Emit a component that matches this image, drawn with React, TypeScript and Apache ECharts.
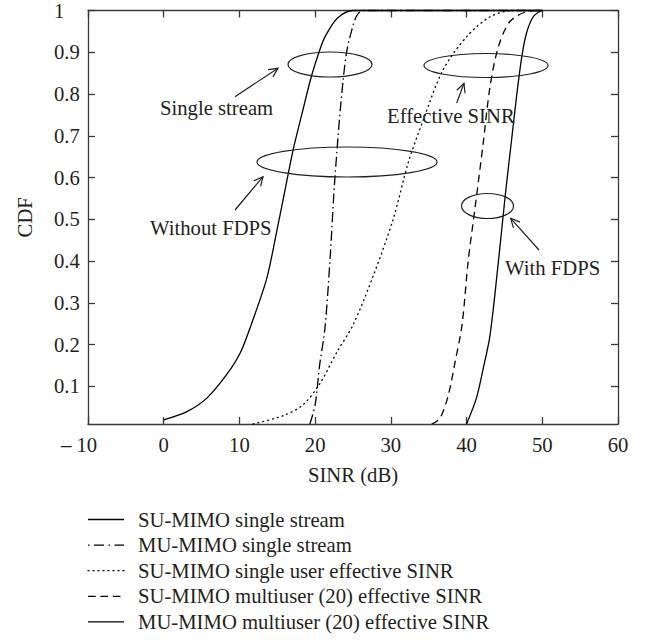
import React, { useEffect, useRef } from "react";
import * as echarts from "echarts";

// ---- data ----
const seriesNames = [
  "SU-MIMO single stream",
  "MU-MIMO single stream",
  "SU-MIMO single user effective SINR",
  "SU-MIMO multiuser (20) effective SINR",
  "MU-MIMO multiuser (20) effective SINR",
];

const suSingleX = [0, 3, 5.7, 8.3, 10.1, 11.5, 13.6, 14.9, 16.0, 17.1, 18.4, 19.5, 20.6, 21.3, 22.9, 25.0, 50];
const suSingleY = [0.02, 0.039, 0.072, 0.128, 0.18, 0.245, 0.358, 0.469, 0.568, 0.667, 0.763, 0.842, 0.905, 0.937, 0.981, 1.0, 1.0];

const muSingleX = [19.3, 20.0, 20.6, 21.3, 22.0, 22.6, 23.7, 24.6, 26.4, 50];
const muSingleY = [0.01, 0.056, 0.152, 0.24, 0.414, 0.596, 0.834, 0.937, 1.0, 1.0];

const suEffX = [11.8, 15.8, 18.4, 20.6, 22.9, 25.0, 27.7, 30.3, 32.3, 34.3, 36.9, 40.0, 43.1, 46.2, 50];
const suEffY = [0.01, 0.03, 0.056, 0.106, 0.183, 0.247, 0.366, 0.5, 0.636, 0.739, 0.858, 0.937, 0.985, 1.0, 1.0];

const suMultiX = [35.4, 36.5, 37.6, 38.5, 39.4, 40.2, 41.1, 42.2, 43.1, 44.2, 45.7, 47.9, 50];
const suMultiY = [0.01, 0.024, 0.08, 0.16, 0.247, 0.398, 0.525, 0.683, 0.818, 0.913, 0.973, 0.997, 1.0];

const muMultiX = [40.0, 41.3, 42.2, 43.1, 44.2, 45.1, 46.0, 46.6, 47.3, 47.9, 48.8, 49.9];
const muMultiY = [0.01, 0.072, 0.143, 0.223, 0.398, 0.556, 0.699, 0.794, 0.89, 0.945, 0.985, 1.0];

const yTickValues = [0.1, 0.2, 0.3, 0.4, 0.5, 0.6, 0.7, 0.8, 0.9, 1];

const annotationTexts = ["Single stream", "Without FDPS", "Effective SINR", "With FDPS"];

const FONT = '"Liberation Serif", "DejaVu Serif", serif';
const FS = 20.7;
const INK = "#231f20";
const FRAME = "#3a3a3a";

const zip = (xs: number[], ys: number[]) => xs.map((x, i) => [x, ys[i]]);

export default function App() {
  const ref = useRef<HTMLDivElement>(null);

  useEffect(() => {
    document.body.style.margin = "0";
    if (!ref.current) return;
    const chart = echarts.init(ref.current, undefined, { renderer: "svg" });

    const dashes: any[] = ["solid", [10, 3.5, 1.5, 3.5], [1, 4], [7.5, 5], "solid"];
    const legendDashes: any[] = [null, [1.5, 4.5, 10, 4.5], [1, 4], [7.7, 4.7], null];
    const datasets = [
      zip(suSingleX, suSingleY),
      zip(muSingleX, muSingleY),
      zip(suEffX, suEffY),
      zip(suMultiX, suMultiY),
      zip(muMultiX, muMultiY),
    ];

    const series = seriesNames.map((name, i) => ({
      name,
      type: "line",
      data: datasets[i],
      showSymbol: false,
      symbol: "none",
      smooth: 0.3,
      clip: false,
      lineStyle: { color: "#000", width: 1.3, type: dashes[i], cap: i === 2 ? "round" : "butt" },
      itemStyle: { color: "#000" },
    }));

    // annotation geometry (pixels)
    const ellipses = [
      { cx: 330, cy: 64.5, rx: 42, ry: 12.5 },
      { cx: 347, cy: 162, rx: 90, ry: 15 },
      { cx: 486, cy: 65.5, rx: 62, ry: 12 },
      { cx: 487.5, cy: 206, rx: 26, ry: 12.5 },
    ];
    const arrows = [
      [235, 96.7, 278, 68.3],
      [235, 210, 263, 176.7],
      [456.7, 103, 464, 83.3],
      [539, 250, 510.7, 218.3],
    ];
    const textPos = [
      [160, 108],
      [150, 228],
      [387, 116],
      [505, 268],
    ];

    const graphics: any[] = [];
    ellipses.forEach((e) =>
      graphics.push({
        type: "ellipse",
        shape: e,
        style: { fill: "none", stroke: INK, lineWidth: 1.2 },
        z: 100,
      })
    );
    arrows.forEach(([x1, y1, x2, y2]) => {
      const ang = Math.atan2(y2 - y1, x2 - x1);
      const L = 10;
      const a = (26 * Math.PI) / 180;
      const p1 = [x2 - L * Math.cos(ang - a), y2 - L * Math.sin(ang - a)];
      const p2 = [x2 - L * Math.cos(ang + a), y2 - L * Math.sin(ang + a)];
      graphics.push({
        type: "line",
        shape: { x1, y1, x2, y2 },
        style: { stroke: INK, lineWidth: 1.2 },
        z: 100,
      });
      graphics.push({
        type: "polyline",
        shape: { points: [p1, [x2, y2], p2] },
        style: { stroke: INK, lineWidth: 1.2, fill: "none" },
        z: 100,
      });
    });
    annotationTexts.forEach((t, i) =>
      graphics.push({
        type: "text",
        x: textPos[i][0],
        y: textPos[i][1],
        style: {
          text: t,
          font: `${FS}px ${FONT}`,
          fill: INK,
          verticalAlign: "middle",
          align: "left",
        },
        z: 100,
      })
    );

    // legend (drawn manually so the line samples match the reference)
    seriesNames.forEach((name, i) => {
      const y = 519.5 + 25.6 * i;
      graphics.push({
        type: "line",
        shape: { x1: 88, y1: y, x2: 124, y2: y },
        style: {
          stroke: "#000",
          lineWidth: 1.3,
          lineDash: legendDashes[i],
          lineCap: i === 2 ? "round" : "butt",
        },
        z: 100,
      });
      graphics.push({
        type: "text",
        x: 138,
        y: y,
        style: {
          text: name,
          font: `${FS}px ${FONT}`,
          fill: INK,
          verticalAlign: "middle",
          align: "left",
        },
        z: 100,
      });
    });

    const tickCommon = { show: true, inside: true, length: 7, lineStyle: { color: FRAME, width: 1.3 } };
    const lineCommon = { show: true, onZero: false, lineStyle: { color: FRAME, width: 1.3 } };
    const labelText = { fontFamily: FONT, fontSize: FS, color: INK };

    chart.setOption({
      animation: false,
      backgroundColor: "#fff",
      grid: { left: 88, top: 7, right: 36, bottom: 218, containLabel: false },
      xAxis: [
        {
          type: "value",
          min: -10,
          max: 60,
          interval: 10,
          position: "bottom",
          axisLine: lineCommon,
          axisTick: tickCommon,
          splitLine: { show: false },
          axisLabel: {
            ...labelText,
            margin: 10,
            formatter: (v: number) => (v === -10 ? "{m|– 10}" : String(v)),
            rich: { m: { ...labelText, padding: [0, 18, 0, 0] } },
          },
          name: "SINR (dB)",
          nameLocation: "middle",
          nameGap: 40,
          nameTextStyle: labelText,
        },
        {
          type: "value",
          min: -10,
          max: 60,
          interval: 10,
          position: "top",
          axisLine: lineCommon,
          axisTick: tickCommon,
          splitLine: { show: false },
          axisLabel: { show: false },
        },
      ],
      yAxis: [
        {
          type: "value",
          min: 0.01,
          max: 1,
          position: "left",
          axisLine: lineCommon,
          axisTick: { ...tickCommon, customValues: yTickValues },
          splitLine: { show: false },
          axisLabel: {
            ...labelText,
            align: "left",
            margin: 34,
            customValues: yTickValues,
            formatter: (v: number) => (Math.abs(v - 1) < 1e-9 ? "1" : v.toFixed(1)),
          },
          name: "CDF",
          nameLocation: "middle",
          nameGap: 53,
          nameTextStyle: labelText,
        },
        {
          type: "value",
          min: 0.01,
          max: 1,
          position: "right",
          axisLine: lineCommon,
          axisTick: { ...tickCommon, customValues: yTickValues },
          splitLine: { show: false },
          axisLabel: { show: false },
        },
      ],
      series,
      graphic: graphics,
    });

    return () => chart.dispose();
  }, []);

  return (
    <div
      ref={ref}
      style={{ width: 654, height: 642, position: "absolute", left: 0, top: 0, background: "#fff" }}
    />
  );
}
